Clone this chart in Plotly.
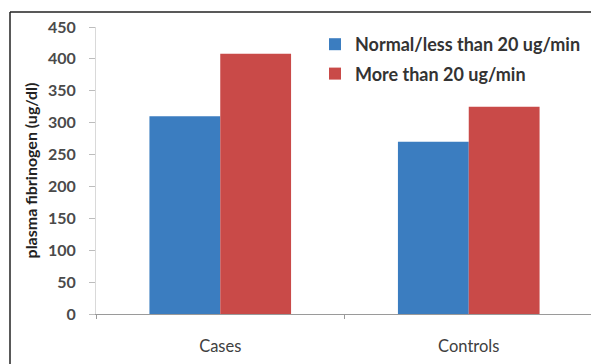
import plotly.graph_objects as go

categories = ["Cases", "Controls"]
normal_vals = [310, 270]
more_vals = [408, 325]
series_names = ["Normal/less than 20 ug/min", "More than 20 ug/min"]
y_ticks = [0, 50, 100, 150, 200, 250, 300, 350, 400, 450]

FONT = "Lato, Open Sans, sans-serif"

fig = go.Figure()
fig.add_trace(go.Bar(x=categories, y=normal_vals, name=series_names[0],
                     marker=dict(color="#3B7DC0", line=dict(width=0)),
                     legendgroup="a"))
fig.add_trace(go.Bar(x=categories, y=more_vals, name=series_names[1],
                     marker=dict(color="#C94A48", line=dict(width=0)),
                     legendgroup="b"))

# page body has an 8px margin, so figure coordinates = page coordinates - 8
W, H = 591, 356
L, R, T, B = 88, 6, 19, 50
pw = W - L - R
ph = H - T - B

def px_x(p):
    return (p - L) / pw

def px_y(p):
    return (H - B - p) / ph

fig.update_layout(
    width=W, height=H,
    margin=dict(l=L, r=R, t=T, b=B, pad=0),
    paper_bgcolor="white", plot_bgcolor="white",
    barmode="group", bargap=0.43, bargroupgap=0,
    font=dict(family=FONT, size=12, color="#404040"),
    showlegend=True,
    legend=dict(x=px_x(307), y=px_y(18), xanchor="left", yanchor="top",
                bgcolor="rgba(0,0,0,0)", traceorder="grouped", tracegroupgap=3,
                font=dict(family=FONT, size=18, color="#333333", weight="bold")),
    xaxis=dict(showline=True, linecolor="#9a9a9a", linewidth=1,
               ticks="outside", tickson="boundaries", ticklen=4, tickcolor="#9a9a9a",
               ticklabelstandoff=17,
               tickfont=dict(family=FONT, size=16.5, color="#404040"),
               showgrid=False, zeroline=False),
    yaxis=dict(range=[0, 450], tickvals=y_ticks, showline=True, linecolor="#d9d9d9",
               linewidth=1, ticks="outside", ticklen=6, tickcolor="#bdbdbd",
               ticklabelstandoff=10,
               tickfont=dict(family=FONT, size=16, color="#4a4a4a", weight="bold"),
               showgrid=False, zeroline=False,
               title=dict(text="plasma fibrinogen (ug/dl)", standoff=6,
                          font=dict(family=FONT, size=16, color="#222222", weight="bold"))),
    shapes=[
        dict(type="line", xref="paper", yref="paper", x0=px_x(2), x1=px_x(600),
             y0=px_y(4), y1=px_y(4), line=dict(color="#222222", width=1.5)),
        dict(type="line", xref="paper", yref="paper", x0=px_x(2), x1=px_x(2),
             y0=px_y(4), y1=px_y(366), line=dict(color="#222222", width=1.5)),
    ],
)

fig.write_html("out.html")
